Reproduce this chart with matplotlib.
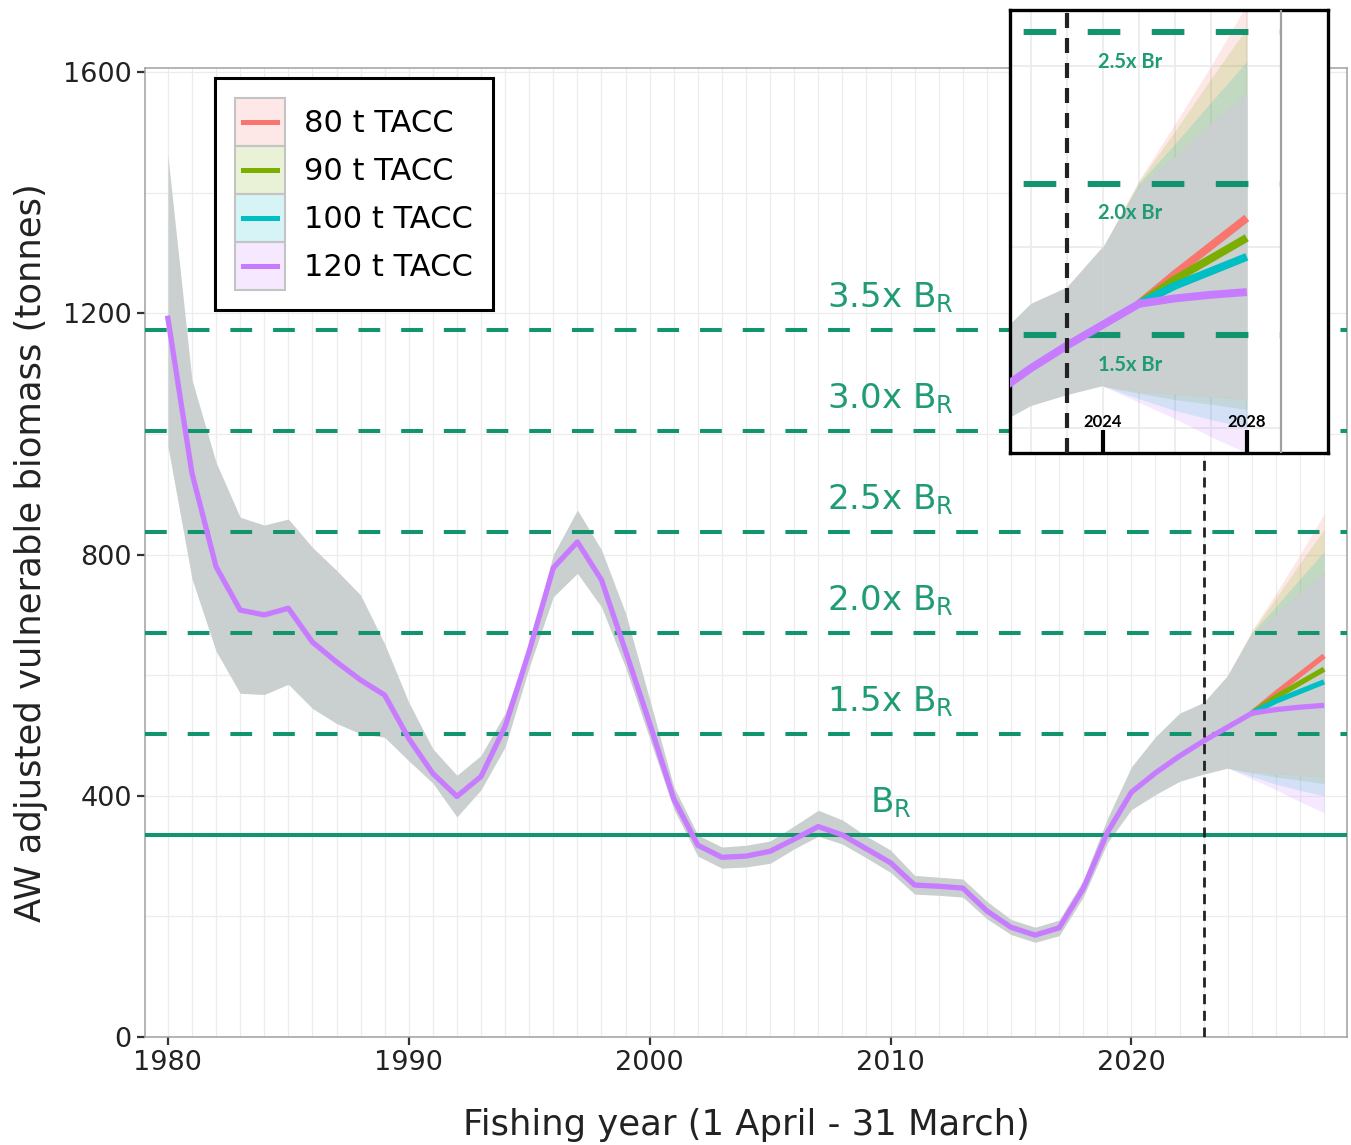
import numpy as np
import matplotlib
matplotlib.use('Agg')
import matplotlib.pyplot as plt
from matplotlib.patches import Rectangle
from matplotlib.lines import Line2D
from matplotlib.legend_handler import HandlerBase
from matplotlib.colors import to_rgba

plt.rcParams['font.family'] = ['DejaVu Sans']
plt.rcParams['mathtext.default'] = 'regular'

# ---- data ----
years = np.arange(1980, 2026)
median = [1192, 935, 780, 708, 700, 711, 655, 622, 592, 567,
          495, 437, 399, 432, 515, 640, 778, 821, 758, 640,
          520, 395, 318, 298, 300, 308, 328, 349, 335, 312,
          289, 252, 250, 247, 209, 182, 169, 181, 246, 339,
          406, 438, 466, 491, 514, 537]

band_years = np.arange(1980, 2025)
lower = [980, 760, 640, 570, 568, 585, 545, 520, 503, 497,
         458, 421, 365, 410, 481, 613, 730, 769, 713, 613,
         495, 378, 300, 280, 282, 288, 312, 333, 320, 297,
         273, 237, 235, 232, 196, 170, 157, 168, 232, 322,
         377, 402, 424, 436, 446]
upper = [1462, 1090, 953, 862, 849, 859, 812, 774, 733, 652,
         555, 478, 434, 467, 537, 647, 800, 874, 808, 703,
         560, 415, 335, 315, 318, 325, 350, 376, 360, 333,
         310, 268, 265, 262, 225, 195, 182, 194, 260, 362,
         448, 498, 537, 555, 600]

scenarios = ['80 t TACC', '90 t TACC', '100 t TACC', '120 t TACC']
proj_line_years = np.arange(2025, 2029)
proj_median = [[537, 570, 601, 632],
               [537, 564, 587, 610],
               [537, 557, 573, 589],
               [537, 543, 547, 550]]
proj_band_years = np.arange(2024, 2029)
proj_lower = [[446, 440, 437, 434, 431],
              [446, 438, 431, 426, 420],
              [446, 432, 419, 409, 400],
              [446, 428, 410, 390, 372]]
proj_upper = [[600, 674, 736, 800, 868],
              [600, 672, 728, 786, 842],
              [600, 670, 714, 760, 805],
              [600, 667, 700, 737, 770]]

br = 335
br_mult = [1.5, 2.0, 2.5, 3.0, 3.5]
inset_mult = [1.5, 2.0, 2.5]
assess_year = 2023

colors = ['#F8766D', '#7CAE00', '#00BFC4', '#C77CFF']
green = '#12956e'
green_txt = '#1f9c76'
grey = '#cacfcf'
grid_c = '#ececec'

x0, x1 = 1979.05, 2028.95
y0, y1 = 0, 1607


def draw_panel(ax, s):
    # background grid (every year / every 200 t)
    ax.hlines(np.arange(0, 1601, 200), x0, x1, color=grid_c, lw=0.9 * s, zorder=0)
    ax.vlines(np.arange(1980, 2029), y0, y1, color=grid_c, lw=0.9 * s, zorder=0)

    # scenario ribbons (pale) then the common grey band
    for lo, hi, c in zip(proj_lower, proj_upper, colors):
        ax.fill_between(proj_band_years, lo, hi, color=c, alpha=0.16, lw=0, zorder=1)
    ax.fill_between(band_years, lower, upper, color=grey, lw=0, zorder=2)
    ax.fill_between(proj_band_years, np.max(proj_lower, axis=0), np.min(proj_upper, axis=0),
                    color=grey, lw=0, zorder=2)

    # reference points
    for m in br_mult:
        ax.hlines(m * br, x0, x1, color=green, lw=2.9 * s, linestyles=(0, (5.4, 5.2)), zorder=3)
    ax.hlines(br, x0, x1, color=green, lw=2.9 * s, zorder=3)

    # projections, then the historical median on top
    for med, c in zip(proj_median, colors):
        ax.plot(proj_line_years, med, color=c, lw=3.8 * s, solid_capstyle='butt', zorder=4)
    ax.plot(years, median, color=colors[-1], lw=3.8 * s, zorder=5)

    ax.axvline(assess_year, color='#222222', lw=2.0 * s, dashes=(3.6, 2.4), zorder=6)


class KeyHandler(HandlerBase):
    # ggplot-like key: pale filled square with a short line
    def create_artists(self, legend, orig_handle, xdescent, ydescent, width, height,
                       fontsize, trans):
        c = orig_handle.get_color()
        box = Rectangle((-xdescent, -ydescent), width, height, facecolor=to_rgba(c, 0.16),
                        edgecolor='#c4c4c4', lw=1.5, transform=trans)
        ym = -ydescent + height / 2
        ln = Line2D([-xdescent + 0.15 * width, -xdescent + 0.85 * width], [ym, ym],
                    color=c, lw=3.6, transform=trans)
        return [box, ln]


fig = plt.figure(figsize=(13.51, 11.45), dpi=100)
ax = fig.add_axes([145 / 1351, 108 / 1145, 1202 / 1351, 969 / 1145])
draw_panel(ax, 1.0)
ax.set_xlim(x0, x1)
ax.set_ylim(y0, y1)

for sp in ax.spines.values():
    sp.set_color('#a0a0a0')
    sp.set_linewidth(1.1)
ax.set_xticks([1980, 1990, 2000, 2010, 2020])
ax.set_yticks([0, 400, 800, 1200, 1600])
ax.tick_params(length=5.5, width=1.6, color='#333333', labelsize=19.5,
               labelcolor='#222222', pad=4)

ax.set_xlabel('Fishing year (1 April - 31 March)', fontsize=25.5, color='#222222')
ax.set_ylabel('AW adjusted vulnerable biomass (tonnes)', fontsize=25.5, color='#222222')
ax.xaxis.set_label_coords(0.5, -0.073)
ax.yaxis.set_label_coords(-0.081, 0.5)

for m in br_mult:
    ax.text(2010, m * br + 37, f'{m:.1f}x B$_R$', ha='center', va='baseline',
            fontsize=24.5, color=green_txt, zorder=7)
ax.text(2010, br + 37, 'B$_R$', ha='center', va='baseline', fontsize=24.5,
        color=green_txt, zorder=7)

handles = [Line2D([], [], color=c) for c in colors]
leg = ax.legend(handles, scenarios, handler_map={Line2D: KeyHandler()},
                loc='upper left', bbox_to_anchor=(0.0582, 0.9897),
                borderaxespad=0, fontsize=22, handlelength=1.63, handleheight=2.04,
                labelspacing=0, borderpad=0.66, handletextpad=0.62,
                fancybox=False, framealpha=1)
leg.get_frame().set_edgecolor('black')
leg.get_frame().set_linewidth(2.2)
leg.set_zorder(10)

# zoomed inset of the projection period
axi = fig.add_axes([1010 / 1351, 692 / 1145, 318 / 1351, 443 / 1145])
axi.set_facecolor('white')
draw_panel(axi, 1.5)
axi.axvline(x1, color='#a0a0a0', lw=1.6, zorder=6)
axi.set_xlim(2021.41, 2030.26)
axi.set_ylim(372, 862)
for sp in axi.spines.values():
    sp.set_color('black')
    sp.set_linewidth(2.4)
for m in inset_mult:
    axi.text(2024.75, m * br - 33, f'{m:.1f}x Br', ha='center', va='center',
             fontsize=14.5, fontweight='bold', color=green_txt,
             family=['Lato', 'DejaVu Sans'], zorder=7)
axi.set_yticks([])
axi.set_xticks([2024, 2028])
axi.set_xticklabels(['2024', '2028'], fontweight='bold', family=['Lato', 'DejaVu Sans'])
axi.tick_params(axis='x', direction='in', length=16.5, width=3, pad=-28,
                labelsize=12, color='black')

fig.savefig('out.png', dpi=100)
